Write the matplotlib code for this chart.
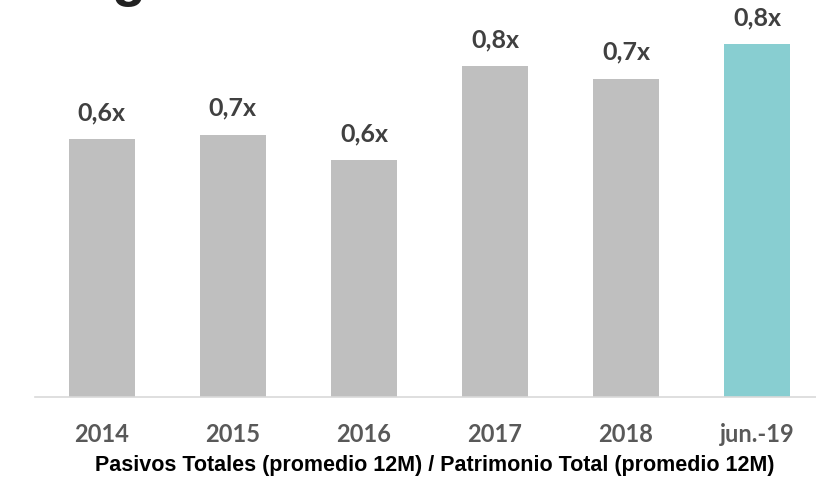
import matplotlib.pyplot as plt

# Data
categories = ["2014", "2015", "2016", "2017", "2018", "jun.-19"]
values = [0.60, 0.61, 0.55, 0.77, 0.74, 0.82]
labels = ["0,6x", "0,7x", "0,6x", "0,8x", "0,7x", "0,8x"]
colors = ["#BFBFBF"] * 5 + ["#88CED1"]

fig = plt.figure(figsize=(8.16, 4.83), dpi=100)
ax = fig.add_axes([35 / 816, 86 / 483, 781 / 816, 397 / 483])

x = range(len(categories))
bars = ax.bar(x, values, width=0.5, color=colors, zorder=2)

for b, lab in zip(bars, labels):
    ax.annotate(lab, (b.get_x() + b.get_width() / 2, b.get_height()),
                xytext=(0, 19), textcoords="offset points",
                ha="center", va="center", fontsize=18, fontweight="bold",
                family="Lato", color="#404040")

ax.set_xlim(-0.51, 5.45)
ax.set_ylim(0, 397 / 430)
ax.set_xticks(list(x))
ax.set_xticklabels(categories, fontsize=17, fontweight="bold",
                   family="Lato", color="#595959")
ax.tick_params(axis="x", length=0, pad=19)
ax.set_yticks([])
for s in ["top", "right", "left"]:
    ax.spines[s].set_visible(False)
ax.spines["bottom"].set_color("#D9D9D9")
ax.spines["bottom"].set_linewidth(1.2)

# footer note
fig.text(435 / 816, 1 - 466 / 483,
         "Pasivos Totales (promedio 12M) / Patrimonio Total (promedio 12M)",
         ha="center", va="center", fontsize=15.5, fontweight="bold",
         family="Liberation Sans", color="#000000")

# leftover of the cut-off title at the top edge
fig.text(129 / 816, 1 + 5 / 483, "g", ha="center", va="baseline",
         fontsize=40, fontweight="bold", family="Liberation Sans",
         color="#222222")

fig.savefig("out.png", dpi=100)
